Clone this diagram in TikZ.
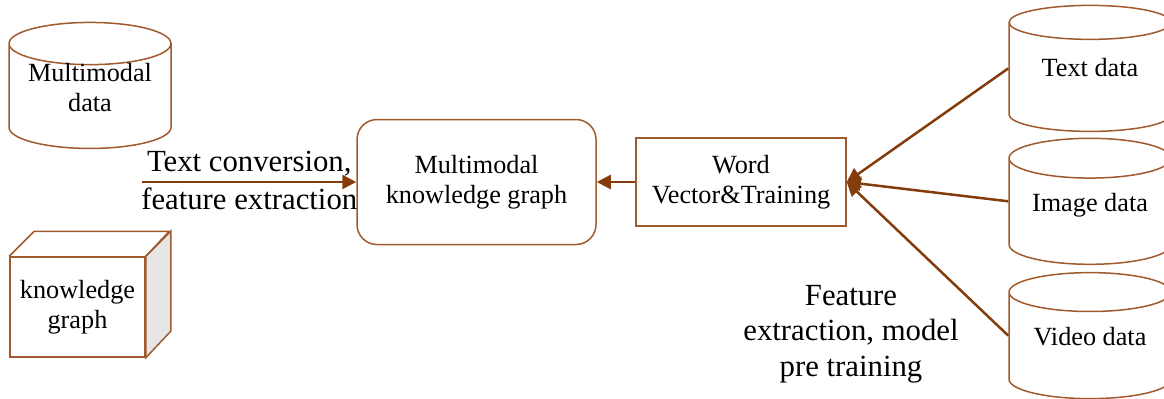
\documentclass[tikz,border=0pt]{standalone}
\usepackage{fontspec}
\setmainfont{Liberation Serif}
\usetikzlibrary{shapes.geometric,positioning,arrows.meta}

\definecolor{rust}{RGB}{132,60,12}
\definecolor{edgebrown}{RGB}{160,90,45}
\definecolor{sidegray}{RGB}{230,230,230}

\tikzset{
  box/.style={draw=edgebrown,line width=0.6pt,fill=white,align=center,
    font=\fontsize{10.5}{12}\selectfont},
  % the cap sits on top, so the text box is pushed down to centre the label
  store/.style={box,cylinder,shape border rotate=90,aspect=0.3,
    minimum width=64.8pt,minimum height=50.4pt,text height=7pt,text depth=10.5pt},
  flow/.style={draw=rust,line width=1pt,-{Triangle[length=5.6pt,width=5.6pt]}},
  note/.style={align=center,font=\fontsize{12.3}{14.2}\selectfont}
}

\begin{document}
\begin{tikzpicture}[on grid,node distance=2cm]
  \useasboundingbox (0,0) rectangle (465.6pt,-159.2pt);

  % middle: the graph and the embedding step
  \node[box,rounded corners=8pt,minimum width=95.6pt,minimum height=50pt]
    (mkg) at (190.6pt,-72.8pt) {Multimodal\\knowledge graph};
  \node[box,minimum width=84pt,minimum height=35.2pt] (wv) [right=105.8pt of mkg]
    {Word\\Vector\&Training};

  % sources on the left
  \node[store,text height=13pt,text depth=4.5pt] (mmdata) [above left=32.4pt and 154.6pt of mkg]
    {Multimodal\\data};
  \node[box,minimum width=54pt,minimum height=40pt] (kg) [below left=82.4pt and 5pt of mmdata]
    {knowledge\\graph};
  \draw[edgebrown,line width=0.6pt,fill=sidegray]
    (kg.north east) -- ++(10pt,10pt) -- ++(0,-40pt) -- (kg.south east) -- cycle;
  \draw[edgebrown,line width=0.6pt]
    (kg.north west) -- ++(10pt,10pt) -- ++(54pt,0) -- (kg.north east);

  % data stores on the right
  \node[store] (idata) [below right=13.6pt and 139.6pt of wv] {Image data};
  \node[store] (tdata) [above=54pt of idata] {Text data};
  \node[store] (vdata) [below=53.6pt of idata] {Video data};

  \coordinate[left=85.6pt of mkg.west] (src);
  \draw[flow] (src) -- node[note,above,inner sep=1.7pt] {Text conversion,}
    node[note,below,inner sep=1.7pt] {feature extraction} (mkg.west);
  \draw[flow] (wv.west) -- (mkg.east);
  \foreach \s in {tdata,idata,vdata}
    \draw[flow] (\s.west |- \s.shape center) -- (wv.east);

  \node[note] (fe) [below right=60.8pt and 44pt of wv]
    {Feature\\extraction, model\\pre training};
\end{tikzpicture}
\end{document}
